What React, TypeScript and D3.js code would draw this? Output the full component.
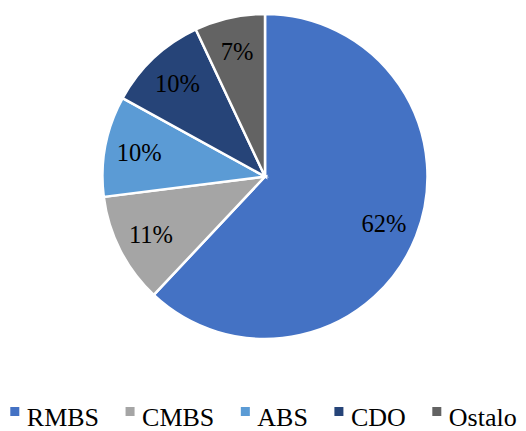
import React, { useEffect, useRef } from 'react';
import * as d3 from 'd3';

const categories = ['RMBS', 'CMBS', 'ABS', 'CDO', 'Ostalo'];
const shares = [62, 11, 10, 10, 7];
const colors = ['#4472C4', '#A5A5A5', '#5B9BD5', '#264478', '#636363'];

const W = 526;
const H = 431;
const FONT = "'Liberation Serif', 'Times New Roman', serif";

export default function App() {
  const svgRef = useRef<SVGSVGElement>(null);

  useEffect(() => {
    if (!svgRef.current) return;
    const svg = d3.select(svgRef.current);
    svg.selectAll('*').remove();

    const cx = 265;
    const cy = 176.5;
    const r = 162.5;
    const labelR = 128;
    const labelSize = 24.5;

    const pie = d3
      .pie<number>()
      .sort(null)
      .value((d) => d);
    const arcs = pie(shares);

    const arc = d3.arc<d3.PieArcDatum<number>>().innerRadius(0).outerRadius(r);
    const labelArc = d3
      .arc<d3.PieArcDatum<number>>()
      .innerRadius(labelR)
      .outerRadius(labelR);

    const g = svg.append('g').attr('transform', `translate(${cx},${cy})`);

    g.selectAll('path.slice')
      .data(arcs)
      .join('path')
      .attr('class', 'slice')
      .attr('d', arc)
      .attr('fill', (_, i) => colors[i])
      .attr('stroke', '#ffffff')
      .attr('stroke-width', 2.5)
      .attr('stroke-linejoin', 'miter');

    g.selectAll('text.label')
      .data(arcs)
      .join('text')
      .attr('class', 'label')
      .attr('x', (d) => labelArc.centroid(d)[0])
      .attr('y', (d) => labelArc.centroid(d)[1] + labelSize * 0.34)
      .attr('text-anchor', 'middle')
      .style('font-family', FONT)
      .style('font-size', `${labelSize}px`)
      .attr('fill', '#000')
      .text((d) => `${d.data}%`);

    // Legend
    const legendSize = 26;
    const sq = 9;
    const sqGap = 7.5;
    const itemGap = 26.5;
    const baseline = 425.5;

    const legend = svg.append('g');
    const items = legend
      .selectAll('g.item')
      .data(categories)
      .join('g')
      .attr('class', 'item');

    items
      .append('rect')
      .attr('width', sq)
      .attr('height', sq)
      .attr('y', baseline - 9.5 - sq)
      .attr('fill', (_, i) => colors[i]);

    const texts = items
      .append('text')
      .attr('x', sq + sqGap)
      .attr('y', baseline)
      .style('font-family', FONT)
      .style('font-size', `${legendSize}px`)
      .attr('fill', '#000')
      .text((d) => d);

    const widths: number[] = [];
    texts.each(function () {
      widths.push((this as SVGTextElement).getComputedTextLength());
    });
    const itemW = widths.map((w) => sq + sqGap + w);
    const total = d3.sum(itemW) + itemGap * (categories.length - 1);
    let x = (W - total) / 2 + 0.5;
    const offsets = itemW.map((w) => {
      const o = x;
      x += w + itemGap;
      return o;
    });
    items.attr('transform', (_, i) => `translate(${offsets[i]},0)`);
  }, []);

  return (
    <div style={{ position: 'absolute', left: 0, top: 0, width: W, height: H, background: '#fff' }}>
      <svg ref={svgRef} width={W} height={H} style={{ display: 'block' }} />
    </div>
  );
}
